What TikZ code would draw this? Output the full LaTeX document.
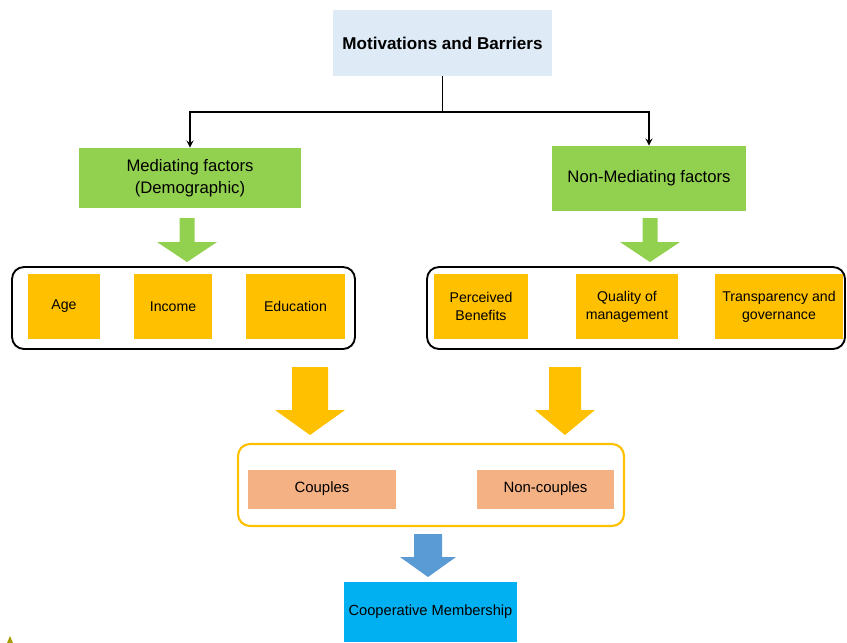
\documentclass[tikz,border=0pt]{standalone}
\usepackage{fontspec}
\setmainfont{Liberation Sans}
\usetikzlibrary{arrows}
\definecolor{topblue}{HTML}{DEEAF6}
\definecolor{leafgreen}{HTML}{92D050}
\definecolor{gold}{HTML}{FFC000}
\definecolor{peach}{HTML}{F4B183}
\definecolor{steel}{HTML}{5B9BD5}
\definecolor{cyanbox}{HTML}{00B0F0}
\tikzset{
  factor/.style={fill=leafgreen, align=center, font=\fontsize{12.5}{16.5}\selectfont, inner sep=0pt},
  item/.style={fill=gold, align=center, font=\fontsize{10.6}{13.5}\selectfont, inner sep=0pt, minimum height=65*0.75pt},
  group/.style={fill=peach, font=\fontsize{11.2}{12}\selectfont, inner sep=0pt, minimum height=39*0.75pt},
  frame/.style={draw, line width=1.4pt, rounded corners=9pt},
}
% block arrow: centre x, top y, head start y, tip y, half shaft, half head, colour
\newcommand{\blockarrow}[7]{%
  \fill[#7] (#1-#5,#2) -- (#1+#5,#2) -- (#1+#5,#3) -- (#1+#6,#3) -- (#1,#4)
    -- (#1-#6,#3) -- (#1-#5,#3) -- cycle;}
\begin{document}
\begin{tikzpicture}[x=0.75pt,y=-0.75pt]
			\useasboundingbox (0,0) rectangle (847,643);
			% header
			\node[fill=topblue, minimum width=219*0.75pt, minimum height=66*0.75pt, font=\bfseries\fontsize{12.8}{14}\selectfont] (motiv) at (442.5,43) {Motivations and Barriers};
			\node[factor, minimum width=222*0.75pt, minimum height=60*0.75pt] (med) at (190,178) {Mediating factors\\(Demographic)};
			\node[factor, minimum width=194*0.75pt, minimum height=65*0.75pt] (nonmed) at (649,178.5) {Non-Mediating factors};
			\coordinate (split) at (motiv.south |- 0,112);
			\draw[line width=1.4pt, -stealth] (motiv.south) -- (split) -| (med.north);
			\draw[line width=1.4pt, -stealth] (split) -| (nonmed.north);
			% green arrows
			\blockarrow{187}{218}{242}{262}{7.5}{30}{leafgreen}
			\blockarrow{650}{218}{242}{262}{7.5}{30}{leafgreen}
			% demographic items
			\draw[frame] (12,267) rectangle (355,349);
			\node[item, minimum width=72*0.75pt] (age) at (64,306.5) {Age};
			\node[item, minimum width=78*0.75pt] (income) at (173,306.5) {Income};
			\node[item, minimum width=99*0.75pt] (edu) at (295.5,306.5) {Education};
			% non-mediating items
			\draw[frame] (427,267) rectangle (845,349);
			\node[item, minimum width=94*0.75pt] (benef) at (481,306.5) {Perceived\\Benefits};
			\node[item, minimum width=102*0.75pt] (quality) at (627,306.5) {Quality of\\management};
			\node[item, minimum width=128*0.75pt] (transp) at (779,306.5) {Transparency and\\governance};
			% yellow arrows
			\blockarrow{310}{367}{410}{435}{18}{35}{gold}
			\blockarrow{565}{367}{410}{435}{16}{30}{gold}
			% couples
			\draw[frame, draw=gold, line width=1.6pt] (238,444) rectangle (624,526);
			\node[group, minimum width=148*0.75pt] (couples) at (322,489) {Couples};
			\node[group, minimum width=137*0.75pt] (noncouples) at (545.5,489) {Non-couples};
			% membership
			\blockarrow{428}{534}{557}{577}{14}{28}{steel}
			\node[fill=cyanbox, minimum width=173*0.75pt, minimum height=60*0.75pt, inner sep=0pt, font=\fontsize{11}{12}\selectfont] (member) at (430.5,612) {Cooperative Membership};
			\fill[olive!80!yellow] (7,643) -- (10,636) -- (13,643) -- cycle;
\end{tikzpicture}
\end{document}
